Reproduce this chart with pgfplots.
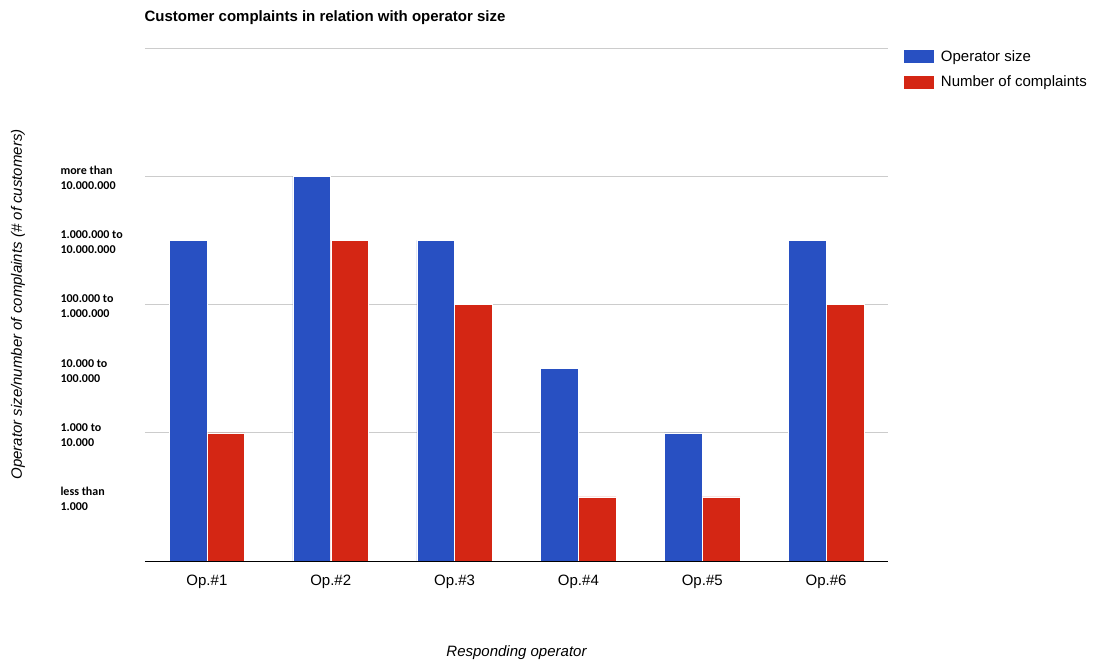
\documentclass[border=0pt]{standalone}
\usepackage{pgfplots}
\pgfplotsset{compat=1.18}
\usepackage{fontspec}
\setmainfont{Liberation Sans}
\newfontfamily\carlito{Carlito}
\definecolor{opblue}{HTML}{2850C2}
\definecolor{opred}{HTML}{D42614}
\definecolor{gridgray}{HTML}{CCCCCC}
\begin{document}
\begin{tikzpicture}
\useasboundingbox (-145pt,-103pt) rectangle (949pt,561pt);
\begin{axis}[
  at={(0pt,0pt)}, anchor=south west,
  scale only axis, width=743pt, height=513pt,
  xmin=0.5, xmax=6.5, ymin=0, ymax=4,
  ybar=0pt, bar width=0.305,
  xtick={1,2,3,4,5,6},
  xticklabels={Op.\#1,Op.\#2,Op.\#3,Op.\#4,Op.\#5,Op.\#6},
  xtick style={draw=none},
  xticklabel style={font=\fontsize{15}{17}\selectfont, yshift=-6pt},
  ytick={0.5,1,1.5,2,2.5,3},
  yticklabels={{less than\\1.000},{1.000 to\\10.000},{10.000 to\\100.000},{100.000 to\\1.000.000},{1.000.000 to\\10.000.000},{more than\\10.000.000}},
  yticklabel style={font=\carlito\bfseries\fontsize{12}{15}\selectfont, align=left, anchor=west, xshift=-88pt, yshift=-2pt},
  ytick style={draw=none},
  extra y ticks={1,2,3,4},
  extra y tick labels={},
  extra y tick style={grid=major, major grid style={gridgray, line width=0.8pt}, tick style={draw=none}},
  axis line style={draw=none},
  xlabel={Responding operator},
  xlabel style={font=\itshape\fontsize{15}{17}\selectfont, at={(axis description cs:0.5,0)}, anchor=center, yshift=-92pt},
  ylabel={Operator size/number of complaints (\# of customers)},
  ylabel style={font=\itshape\fontsize{15}{17}\selectfont, at={(axis description cs:-0.1709,0.5)}, anchor=center},
  title={Customer complaints in relation with operator size},
  title style={font=\bfseries\fontsize{15}{17}\selectfont, at={(axis description cs:0,1)}, anchor=west, yshift=24pt, xshift=-4pt},
  legend style={draw=none, at={(rel axis cs:1.0205,1.0)}, anchor=north west, font=\fontsize{15}{17}\selectfont, row sep=9pt, inner sep=0pt, /tikz/every odd column/.append style={column sep=4pt}},
  legend cell align=left,
  legend image code/.code={\fill[#1] (0pt,-7pt) rectangle (31pt,7pt);},
]
\addplot[fill=opblue, draw=white, line width=0.5pt] coordinates {(1,2.5) (2,3) (3,2.5) (4,1.5) (5,1) (6,2.5)};
\addplot[fill=opred, draw=white, line width=0.5pt] coordinates {(1,1) (2,2.5) (3,2) (4,0.5) (5,0.5) (6,2)};
\legend{Operator size, Number of complaints}
\draw[black, line width=0.8pt] (rel axis cs:0,0) -- (rel axis cs:1,0);
\end{axis}
\end{tikzpicture}
\end{document}
